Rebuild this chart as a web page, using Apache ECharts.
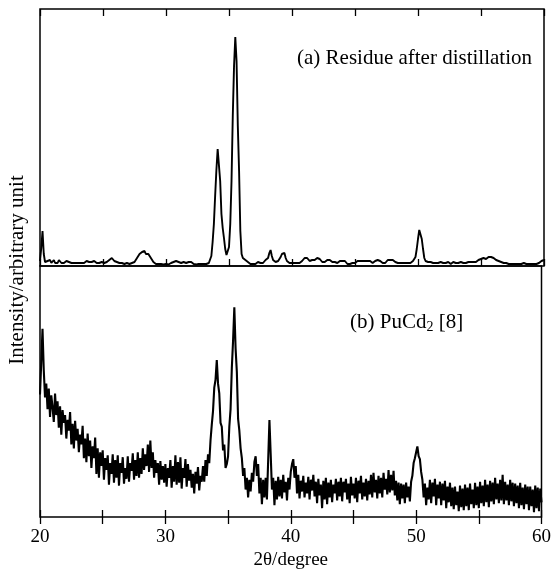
<!DOCTYPE html>
<html>
<head>
<meta charset="utf-8">
<script src="https://cdn.jsdelivr.net/npm/echarts@6/dist/echarts.min.js"></script>
<style>
  html, body { margin: 0; padding: 0; background: #fff; }
  #chart { width: 554px; height: 571px; }
</style>
</head>
<body>
<div id="chart"></div>
<script>
// XRD patterns: (a) residue after distillation, (b) PuCd2 reference [8].
// Both scans share a 0.1 degree step grid from 20 to 60 degrees 2-theta.
const scanStart = 20.0;
const scanStep = 0.1;
const xTickLabels = [20, 30, 40, 50, 60];

// (a) Residue after distillation, arbitrary intensity, one row per degree
const residueIntensity = [
  5, 18, 35, 12, 4, 3, 5, 3, 6, 3,          // 20
  4, 6, 3, 5, 3, 6, 4, 3, 5, 3,             // 21
  4, 5, 3, 4, 6, 3, 4, 3, 5, 3,             // 22
  4, 3, 5, 3, 4, 3, 4, 5, 3, 4,             // 23
  3, 4, 3, 5, 4, 3, 4, 3, 5, 4,             // 24
  4, 3, 4, 4, 4, 6, 8, 8, 7, 5,             // 25
  4, 4, 3, 3, 4, 3, 3, 2, 3, 3,             // 26
  3, 2, 3, 3, 3, 4, 6, 8, 9, 12,            // 27
  13, 14, 16, 15, 12, 13, 12, 10, 8, 6,     // 28
  4, 3, 2, 2, 2, 1.5, 2, 2, 1.5, 2,         // 29
  2, 2, 1.5, 2, 3, 2, 4, 3, 5, 3,           // 30
  4, 5, 3, 5, 4, 6, 3, 5, 4, 3,             // 31
  4, 3, 2, 2, 1.5, 2, 2, 1.5, 2, 2,         // 32
  2, 2, 2, 2.5, 3, 4, 10, 24, 42, 70,       // 33
  96, 117, 116, 85, 52, 38, 28, 17, 11, 15, // 34
  19, 42, 85, 150, 200, 229, 205, 140, 95, 35, // 35
  12, 8, 7, 6, 5, 4, 3, 2, 3, 2,            // 36
  3, 2, 3, 4, 3, 3, 4, 3, 4, 6,             // 37
  5, 8, 13, 16, 10, 6, 4, 4, 3, 5,          // 38
  6, 9, 12, 14, 13, 8, 5, 4, 3, 4,          // 39
  3, 4, 3, 4, 3, 4, 3, 4, 5, 6,             // 40
  8, 9, 8, 6, 5, 7, 6, 4, 6, 8,             // 41
  8, 9, 7, 5, 4, 3, 4, 5, 6, 5,             // 42
  6, 5, 4, 3, 4, 3, 3, 4, 5, 4,             // 43
  5, 6, 5, 3, 2, 2, 2, 2, 3, 3,             // 44
  3, 4, 5, 4, 5, 4, 5, 4, 5, 4,             // 45
  5, 4, 5, 4, 3, 4, 5, 4, 6, 4,             // 46
  5, 4, 3, 4, 3, 4, 6, 7, 6, 5,             // 47
  6, 5, 4, 3, 3, 4, 3, 4, 3, 4,             // 48
  3, 4, 3, 4, 3, 4, 5, 6, 9, 17,            // 49
  27, 36, 35, 27, 17, 8, 5, 3, 4, 3,        // 50
  4, 5, 3, 4, 3, 4, 3, 3, 4, 3,             // 51
  3, 4, 3, 3, 4, 3, 2, 3, 4, 3,             // 52
  3, 2, 3, 3, 4, 3, 3, 4, 3, 4,             // 53
  4, 3, 4, 3, 4, 5, 4, 5, 6, 5,             // 54
  7, 5, 8, 6, 7, 8, 9, 8, 9, 7,             // 55
  8, 7, 6, 6, 5, 5, 4, 4, 3, 4,             // 56
  3, 3, 2, 3, 2, 3, 2, 3, 2, 3,             // 57
  2, 3, 2, 2, 3, 2, 2, 3, 2, 3,             // 58
  2, 3, 2, 3, 2, 3, 3, 4, 5, 6,             // 59
  6                                         // 60
];

// (b) PuCd2 [8], noisy scan, arbitrary intensity
const pucd2Intensity = [
  125, 158, 192, 150, 122, 136, 110, 131, 102, 124, // 20
  112, 97, 126, 104, 118, 91, 113, 84, 109, 96,     // 21
  104, 80, 99, 88, 107, 74, 95, 70, 98, 78,         // 22
  90, 66, 84, 74, 93, 60, 80, 56, 85, 62,           // 23
  78, 50, 72, 60, 81, 44, 70, 40, 66, 52,           // 24
  68, 38, 60, 48, 63, 33, 55, 44, 64, 35,           // 25
  58, 40, 63, 32, 55, 45, 61, 34, 50, 39,           // 26
  62, 36, 55, 47, 65, 38, 58, 42, 66, 40,           // 27
  60, 44, 70, 48, 64, 52, 74, 46, 78, 50,           // 28
  66, 40, 58, 45, 55, 33, 57, 38, 52, 35,           // 29
  54, 31, 50, 40, 58, 30, 52, 36, 63, 33,           // 30
  56, 35, 61, 29, 50, 40, 59, 31, 54, 37,           // 31
  48, 30, 44, 24, 46, 34, 51, 27, 42, 36,           // 32
  52, 36, 58, 42, 64, 55, 78, 94, 108, 132,         // 33
  140, 160, 136, 126, 96, 92, 68, 74, 50, 54,       // 34
  62, 92, 110, 152, 180, 214, 172, 148, 100, 88,    // 35
  70, 60, 42, 50, 28, 40, 20, 38, 26, 45,           // 36
  36, 56, 62, 42, 54, 24, 40, 13, 38, 20,           // 37
  40, 18, 58, 99, 64, 28, 40, 12, 37, 18,           // 38
  41, 21, 38, 19, 43, 25, 36, 17, 40, 28,           // 39
  46, 54, 59, 40, 52, 24, 43, 19, 37, 26,           // 40
  42, 20, 35, 24, 41, 18, 38, 27, 43, 21,           // 41
  36, 14, 39, 22, 33, 9, 37, 18, 40, 13,            // 42
  35, 20, 38, 15, 33, 24, 39, 17, 36, 21,           // 43
  40, 16, 36, 25, 39, 18, 34, 14, 41, 22,           // 44
  34, 19, 40, 15, 37, 24, 42, 18, 35, 21,           // 45
  39, 17, 37, 23, 43, 20, 45, 25, 38, 19,           // 46
  42, 24, 40, 20, 45, 28, 39, 23, 48, 25,           // 47
  43, 27, 47, 22, 37, 17, 35, 13, 34, 19,           // 48
  33, 14, 35, 20, 31, 16, 36, 42, 55, 60,           // 49
  66, 72, 62, 59, 46, 38, 20, 34, 12, 30,           // 50
  18, 38, 14, 35, 21, 39, 12, 33, 19, 36,           // 51
  12, 34, 17, 37, 9, 31, 15, 35, 11, 30,            // 52
  8, 31, 12, 26, 6, 32, 10, 29, 7, 33,              // 53
  11, 30, 7, 34, 13, 28, 9, 35, 12, 31,             // 54
  9, 36, 14, 32, 11, 38, 15, 33, 10, 37,            // 55
  16, 35, 13, 40, 18, 34, 14, 38, 17, 43,           // 56
  13, 36, 17, 33, 12, 38, 16, 35, 11, 34,           // 57
  14, 32, 9, 35, 12, 30, 8, 33, 13, 31,             // 58
  7, 31, 11, 28, 5, 32, 9, 30, 6, 29,               // 59
  15                                                // 60
];

const FONT = '"Liberation Serif", "Times New Roman", serif';
const INK = '#000';

function toPairs(values) {
  return values.map((v, i) => [+(scanStart + i * scanStep).toFixed(1), v]);
}

function xAxisFor(gridIndex, position, withLabels) {
  return {
    type: 'value',
    gridIndex: gridIndex,
    position: position,
    min: 20,
    max: 60,
    interval: 5,
    axisLine: { show: false },
    axisTick: { show: true, inside: true, length: 7, lineStyle: { color: INK, width: 1.3 } },
    splitLine: { show: false },
    axisLabel: {
      show: withLabels,
      color: INK,
      fontFamily: FONT,
      fontSize: 19,
      margin: 11,
      formatter: (v) => (xTickLabels.includes(v) ? String(v) : ''),
    },
    name: withLabels ? '2θ/degree' : '',
    nameLocation: 'middle',
    nameGap: 34,
    nameTextStyle: { color: INK, fontFamily: FONT, fontSize: 19 },
  };
}

const chart = echarts.init(document.getElementById('chart'), null, { renderer: 'canvas' });

chart.setOption({
  backgroundColor: '#fff',
  animation: false,
  grid: [
    { left: 40, right: 10, top: 9, height: 257, show: true, borderColor: INK, borderWidth: 1.5, containLabel: false },
    { left: 40, right: 10, top: 266, height: 256, show: true, borderColor: INK, borderWidth: 1.5, containLabel: false },
  ],
  xAxis: [
    xAxisFor(0, 'bottom', false),
    xAxisFor(0, 'top', false),
    xAxisFor(1, 'top', false),
    xAxisFor(1, 'bottom', true),
  ],
  yAxis: [
    { type: 'value', gridIndex: 0, min: 0, max: 257, show: false },
    { type: 'value', gridIndex: 1, min: 0, max: 256, show: false },
  ],
  series: [
    {
      name: 'Residue after distillation',
      type: 'line',
      xAxisIndex: 0,
      yAxisIndex: 0,
      data: toPairs(residueIntensity),
      symbol: 'none',
      lineStyle: { color: INK, width: 1.9 },
    },
    {
      name: 'PuCd2',
      type: 'line',
      xAxisIndex: 3,
      yAxisIndex: 1,
      data: toPairs(pucd2Intensity),
      symbol: 'none',
      lineStyle: { color: INK, width: 2.1 },
    },
  ],
  graphic: [
    {
      type: 'text',
      x: 17,
      y: 270,
      rotation: Math.PI / 2,
      style: {
        text: 'Intensity/arbitrary unit',
        fill: INK,
        font: '21px ' + FONT,
        align: 'center',
        verticalAlign: 'middle',
      },
    },
    {
      type: 'text',
      x: 532,
      y: 58,
      style: {
        text: '(a) Residue after distillation',
        fill: INK,
        font: '21px ' + FONT,
        align: 'right',
        verticalAlign: 'middle',
      },
    },
    {
      type: 'text',
      x: 350,
      y: 322,
      style: {
        text: '{n|(b) PuCd}{s|2}{n| [8]}',
        fill: INK,
        align: 'left',
        verticalAlign: 'middle',
        rich: {
          n: { fontFamily: FONT, fontSize: 21, lineHeight: 24, verticalAlign: 'middle' },
          s: { fontFamily: FONT, fontSize: 14, lineHeight: 24, verticalAlign: 'bottom', padding: [9, 0, 0, 0] },
        },
      },
    },
  ],
});
</script>
</body>
</html>
